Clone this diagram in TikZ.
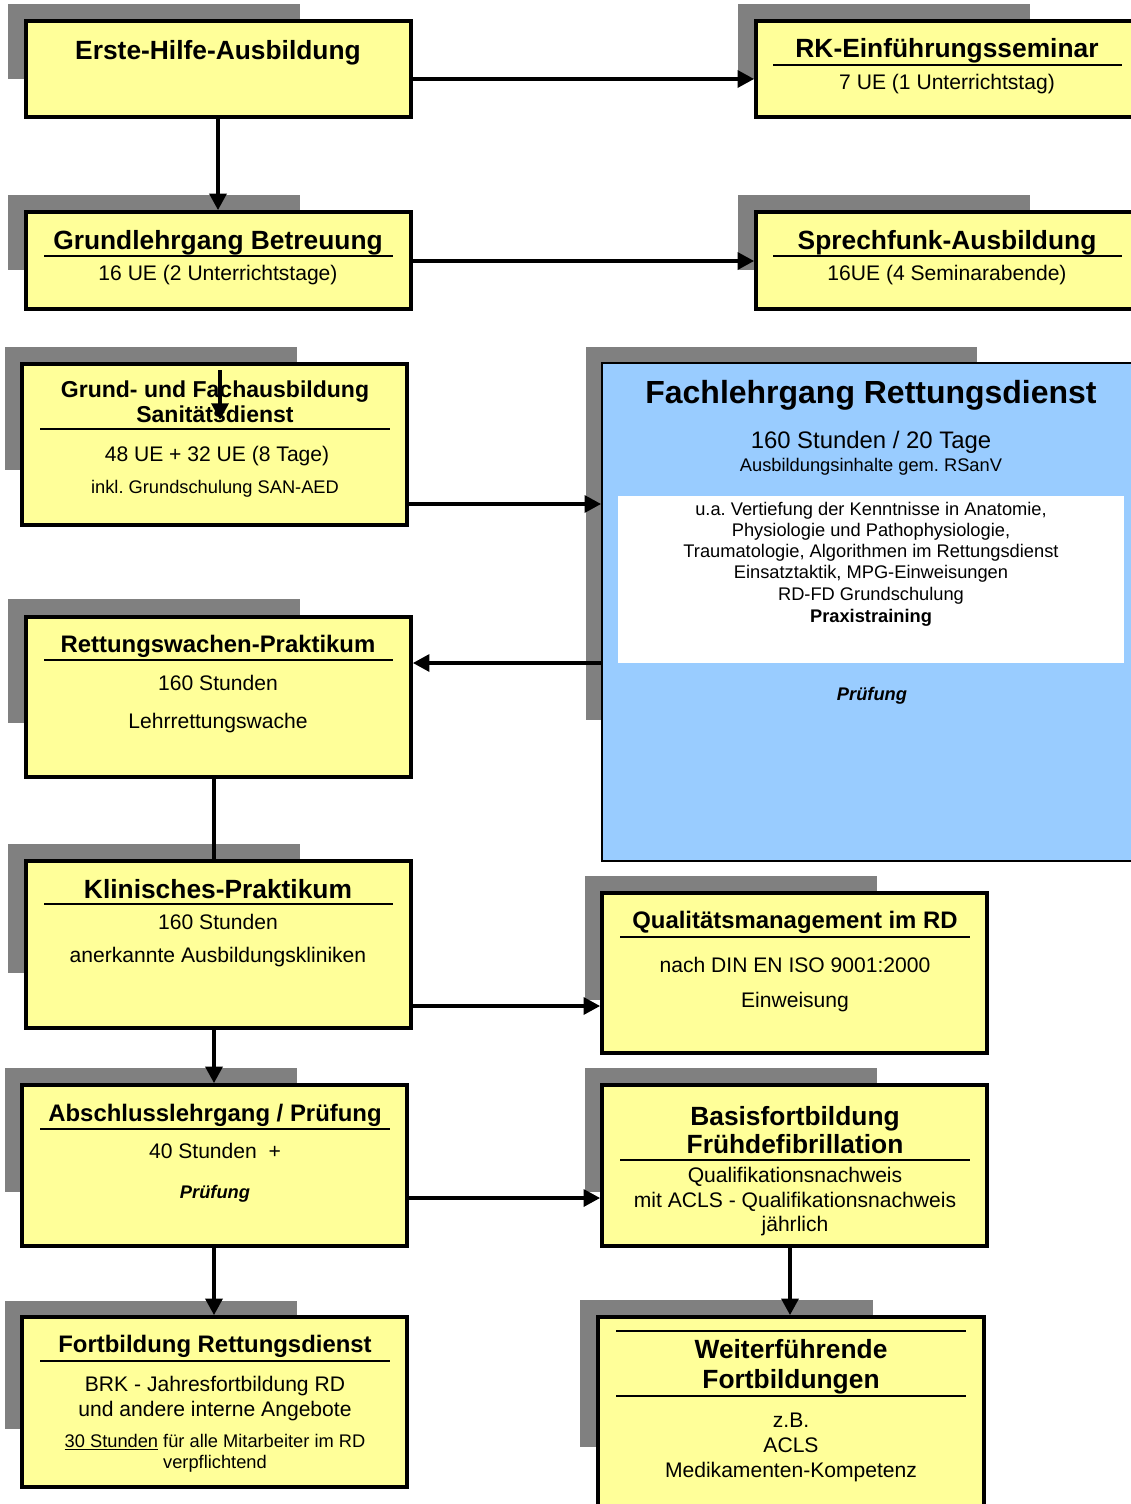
\documentclass[tikz,border=0pt]{standalone}
\usepackage{fontspec}
\setmainfont{Liberation Sans}
\frenchspacing
\usetikzlibrary{fit,arrows.meta}
\definecolor{boxyellow}{HTML}{FFFF99}
\definecolor{boxblue}{HTML}{99CCFF}
\definecolor{shadowgray}{HTML}{808080}

\begin{document}
\begin{tikzpicture}[x=0.02cm, y=-0.02cm,
    shadow/.style={fill=shadowgray},
    box/.style={draw, line width=2pt, fill=boxyellow, inner sep=0pt},
    bigbox/.style={draw, line width=0.9pt, fill=boxblue, inner sep=0pt},
    txt/.style={inner sep=0pt, anchor=base},
    title/.style={txt, font=\bfseries\fontsize{15}{18}\selectfont},
    subtitle/.style={txt, font=\bfseries\fontsize{13.6}{16}\selectfont},
    body/.style={txt, font=\fontsize{12}{14}\selectfont},
    small/.style={txt, font=\fontsize{10.4}{12}\selectfont},
    rule/.style={line width=0.8pt},
    link/.style={line width=2.4pt},
    arr/.style={link, -{Triangle[length=9.5pt,width=9.5pt]}}]
  \useasboundingbox (0,0) rectangle (1131,1504);

  \fill[shadow] (8,4) rectangle (300,79);
  \fill[shadow] (738,4) rectangle (1030,79);
  \fill[shadow] (8,195) rectangle (300,270);
  \fill[shadow] (738,195) rectangle (1030,270);
  \fill[shadow] (5,347) rectangle (297,470);
  \fill[shadow] (586,347) rectangle (977,720);
  \fill[shadow] (8,599) rectangle (300,723);
  \fill[shadow] (8,844) rectangle (300,973);
  \fill[shadow] (585,876) rectangle (877,1000);
  \fill[shadow] (5,1068) rectangle (297,1192);
  \fill[shadow] (585,1068) rectangle (877,1192);
  \fill[shadow] (5,1301) rectangle (297,1429);
  \fill[shadow] (580,1300) rectangle (873,1447);

  \node[box, fit={(26,21) (411,117)}] (eh) {};
  \node[box, fit={(756,21) (1145,117)}] (rk) {};
  \node[box, fit={(26,212) (411,309)}] (gb) {};
  \node[box, fit={(756,212) (1145,309)}] (sf) {};
  \node[box, fit={(22,364) (407,525)}] (gfs) {};
  \node[bigbox, fit={(602,363) (1145,861)}] (flr) {};
  \node[box, fit={(26,617) (411,777)}] (rwp) {};
  \node[box, fit={(26,861) (411,1028)}] (kp) {};
  \node[box, fit={(602,893) (987,1053)}] (qm) {};
  \node[box, fit={(22,1085) (407,1246)}] (alp) {};
  \node[box, fit={(602,1085) (987,1246)}] (bfd) {};
  \node[box, fit={(22,1317) (407,1487)}] (frd) {};
  \node[box, fit={(598,1317) (984,1520)}] (wf) {};
  \fill[white] (618,496) rectangle (1124,663);

  \node[title] (eh-t) at (218,60) {Erste-Hilfe-Ausbildung};

  \node[title] (rk-t) at (947,58) {RK-Einführungsseminar};
  \draw[rule] (773,65) -- (1122,65);
  \node[body] (rk-b) at (947,90) {7 UE (1 Unterrichtstag)};

  \node[title] (gb-t) at (218,249) {Grundlehrgang Betreuung};
  \draw[rule] (44,256) -- (393,256);
  \node[body] (gb-b) at (218,280) {16 UE (2 Unterrichtstage)};

  \node[title] (sf-t) at (947,249) {Sprechfunk-Ausbildung};
  \draw[rule] (773,256) -- (1122,256);
  \node[body] (sf-b) at (947,280) {16UE (4 Seminarabende)};

  \node[subtitle, font=\bfseries\fontsize{13.1}{16}\selectfont] (gfs-t1) at (215,397) {Grund- und Fachausbildung};
  \node[subtitle, font=\bfseries\fontsize{13.1}{16}\selectfont] (gfs-t2) at (215,422) {Sanitätsdienst};
  \draw[rule] (40,429) -- (390,429);
  \node[body] (gfs-b1) at (217,461) {48 UE + 32 UE (8 Tage)};
  \node[small] (gfs-b2) at (215,493) {inkl. Grundschulung SAN-AED};

  \node[txt, font=\bfseries\fontsize{18.2}{22}\selectfont] (flr-t) at (871,403) {Fachlehrgang Rettungsdienst};
  \node[txt, font=\fontsize{13.6}{16}\selectfont] (flr-b1) at (871,448) {160 Stunden / 20 Tage};
  \node[small] (flr-b2) at (871,471) {Ausbildungsinhalte gem. RSanV};
  \node[small] (flr-w1) at (871,515) {u.a. Vertiefung der Kenntnisse in Anatomie,};
  \node[small] (flr-w2) at (871,536) {Physiologie und Pathophysiologie,};
  \node[small] (flr-w3) at (871,557) {Traumatologie, Algorithmen im Rettungsdienst};
  \node[small] (flr-w4) at (871,578) {Einsatztaktik, MPG-Einweisungen};
  \node[small] (flr-w5) at (871,600) {RD-FD Grundschulung};
  \node[small, font=\bfseries\fontsize{10.4}{12}\selectfont] (flr-w6) at (871,622) {Praxistraining};
  \node[small, font=\bfseries\itshape\fontsize{10.4}{12}\selectfont] (flr-p) at (872,700) {Prüfung};

  \node[subtitle] (rwp-t) at (218,652) {Rettungswachen-Praktikum};
  \draw[rule] (44,660) -- (393,660);
  \node[body] (rwp-b1) at (218,690) {160 Stunden};
  \node[body] (rwp-b2) at (218,728) {Lehrrettungswache};

  \node[title] (kp-t) at (218,898) {Klinisches-Praktikum};
  \draw[rule] (44,904) -- (393,904);
  \node[body] (kp-b1) at (218,929) {160 Stunden};
  \node[body] (kp-b2) at (218,962) {anerkannte Ausbildungskliniken};

  \node[subtitle] (qm-t) at (795,928) {Qualitätsmanagement im RD};
  \draw[rule] (620,937) -- (970,937);
  \node[body] (qm-b1) at (795,972) {nach DIN EN ISO 9001:2000};
  \node[body] (qm-b2) at (795,1007) {Einweisung};

  \node[subtitle] (alp-t) at (215,1121) {Abschlusslehrgang / Prüfung};
  \draw[rule] (40,1129) -- (390,1129);
  \node[body] (alp-b1) at (215,1158) {40 Stunden\ \ +};
  \node[small, font=\bfseries\itshape\fontsize{10.4}{12}\selectfont] (alp-b2) at (215,1198) {Prüfung};

  \node[title] (bfd-t1) at (795,1125) {Basisfortbildung};
  \node[title] (bfd-t2) at (795,1153) {Frühdefibrillation};
  \draw[rule] (620,1160) -- (970,1160);
  \node[body] (bfd-b1) at (795,1182) {Qualifikationsnachweis};
  \node[body] (bfd-b2) at (795,1207) {mit ACLS - Qualifikationsnachweis};
  \node[body] (bfd-b3) at (795,1231) {jährlich};

  \node[subtitle] (frd-t) at (215,1352) {Fortbildung Rettungsdienst};
  \draw[rule] (40,1361) -- (390,1361);
  \node[body] (frd-b1) at (215,1391) {BRK - Jahresfortbildung RD};
  \node[body] (frd-b2) at (215,1416) {und andere interne Angebote};
  \node[small] (frd-b3) at (215,1447) {\underline{30 Stunden} für alle Mitarbeiter im RD};
  \node[small] (frd-b4) at (215,1468) {verpflichtend};

  \draw[rule] (616,1331) -- (966,1331);
  \node[title] (wf-t1) at (791,1358) {Weiterführende};
  \node[title] (wf-t2) at (791,1388) {Fortbildungen};
  \draw[rule] (616,1396) -- (966,1396);
  \node[body] (wf-b1) at (791,1427) {z.B.};
  \node[body] (wf-b2) at (791,1452) {ACLS};
  \node[body] (wf-b3) at (791,1477) {Medikamenten-Kompetenz};

  \coordinate (gfs-in) at (220,370);
  \coordinate (gfs-tip) at (220,420);
  \draw[arr] (eh.east |- 0,79) -- (rk.west |- 0,79);
  \draw[arr] (eh.south -| 218,0) -- (gb.north -| 218,0);
  \draw[arr] (gb.east |- 0,261) -- (sf.west |- 0,261);
  \draw[arr] (gfs-in) -- (gfs-tip);
  \draw[arr] (gfs.east |- 0,504) -- (flr.west |- 0,504);
  \draw[arr] (flr.west |- 0,663) -- (rwp.east |- 0,663);
  \draw[link] (rwp.south -| 214,0) -- (kp.north -| 214,0);
  \draw[arr] (kp.east |- 0,1006) -- (qm.west |- 0,1006);
  \draw[arr] (kp.south -| 214,0) -- (alp.north -| 214,0);
  \draw[arr] (alp.east |- 0,1198) -- (bfd.west |- 0,1198);
  \draw[arr] (alp.south -| 214,0) -- (frd.north -| 214,0);
  \draw[arr] (bfd.south -| 790,0) -- (wf.north -| 790,0);
\end{tikzpicture}
\end{document}
